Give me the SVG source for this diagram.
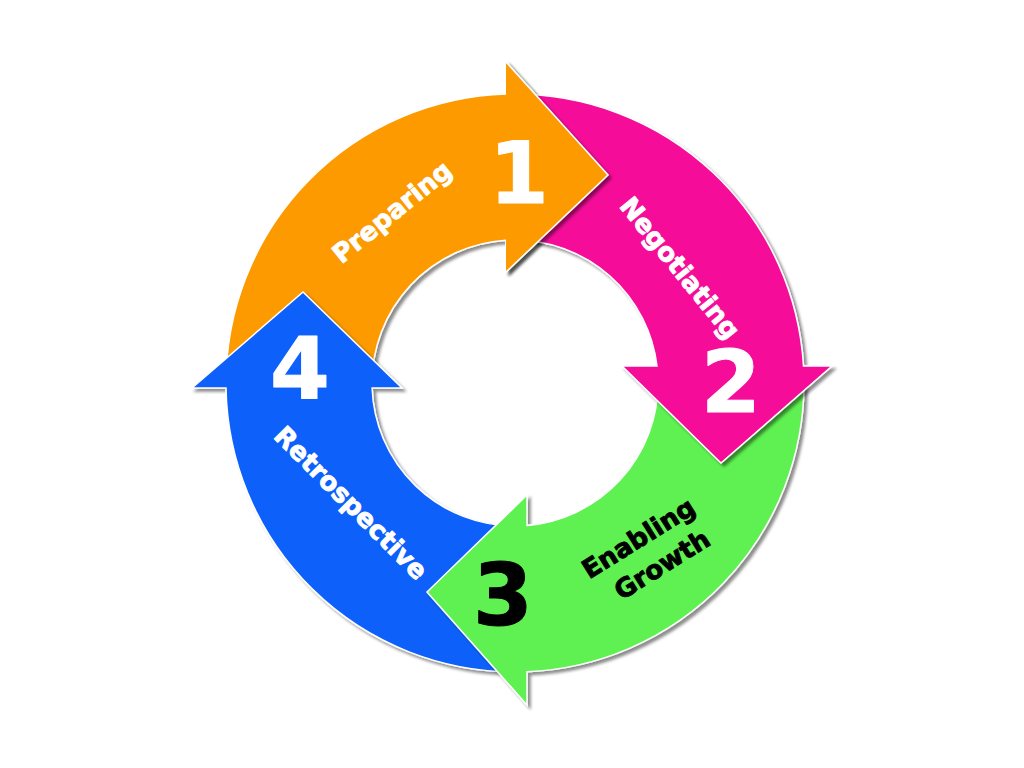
<svg xmlns="http://www.w3.org/2000/svg" width="1024" height="768" viewBox="0 0 1024 768">
<defs>
<filter id="sh" x="-15%" y="-15%" width="135%" height="135%">
<feDropShadow dx="3" dy="3" stdDeviation="1.8" flood-color="#000" flood-opacity="0.45"/>
</filter>
</defs>
<style>
.arrow{stroke:#ffffff;stroke-width:1.5;stroke-linejoin:miter}
.lbl{font-family:"DejaVu Sans",Verdana,sans-serif;font-weight:bold;font-size:26px;text-anchor:middle;stroke-width:0.9;stroke-linejoin:round}
.num{font-family:"DejaVu Sans",Verdana,sans-serif;font-weight:bold;font-size:86px;text-anchor:middle;stroke-width:1;stroke-linejoin:round}
.w{fill:#ffffff;stroke:#ffffff}
.k{fill:#000000;stroke:#000000}
</style>
<rect width="1024" height="768" fill="#ffffff"/>

<g id="step1">
<path class="arrow" filter="url(#sh)" fill="#FC9A03" d="M226,383 A289,289 0 0 1 506,94.1 L506,62 L608,175 L506,272 L506,240.3 A143,143 0 0 0 372,383 Z"/>
<text class="lbl w" transform="translate(392,212) rotate(-39)" y="9">Preparing</text>
</g>

<g id="step4">
<path class="arrow" filter="url(#sh)" fill="#1161F9" d="M515,672 A289,289 0 0 1 226,388 L192,388 L303,292 L402,388 L372.1,388 A143,143 0 0 0 515,526 Z"/>
<text class="num w" x="300" y="398">4</text>
<text class="lbl w" transform="translate(351,503) rotate(45)" y="9">Retrospective</text>
</g>

<g id="step3">
<path class="arrow" filter="url(#sh)" fill="#5EF151" d="M804,383 A289,289 0 0 1 527,671.75 L527,705 L427,592 L527,495 L527,525.5 A143,143 0 0 0 658,383 Z"/>
<text class="num k" x="503" y="625">3</text>
<g transform="translate(650,551) rotate(-32)">
<text class="lbl k" x="-3" y="-8">Enabling</text>
<text class="lbl k" x="3" y="27">Growth</text>
</g>
</g>

<g id="step2">
<path class="arrow" filter="url(#sh)" fill="#F50E99" d="M515,94 A289,289 0 0 1 803.5,366 L832,366 L721,463 L622,366 L657,366 A143,143 0 0 0 515,240 Z"/>
<text class="num w" x="731" y="412">2</text>
<text class="lbl w" transform="translate(680,268) rotate(51)" y="9">Negotiating</text>
</g>

<g id="step1-head">
<g filter="url(#sh)">
<polygon fill="#FC9A03" points="506,62 608,175 506,272"/>
<polyline fill="none" stroke="#ffffff" stroke-width="1.5" points="506,62 608,175 506,272"/>
</g>
<text class="num w" x="519" y="203">1</text>
</g>
</svg>
